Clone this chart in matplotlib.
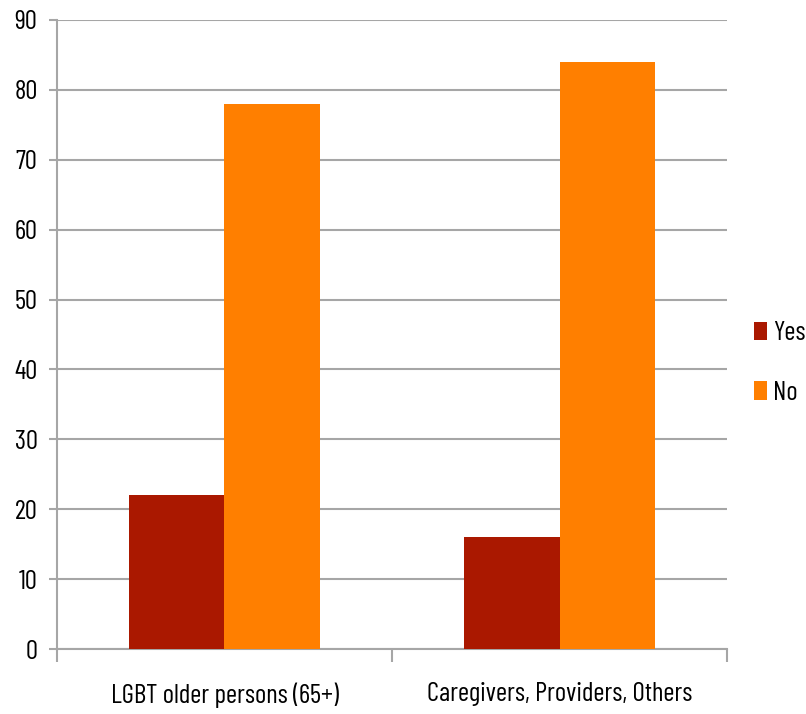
import matplotlib
matplotlib.use("Agg")
import matplotlib.pyplot as plt
from matplotlib import font_manager
import numpy as np

categories = ["LGBT older persons (65+)", "Caregivers, Providers, Others"]
series_names = ["Yes", "No"]
yes_values = [22, 16]
no_values = [78, 84]
y_ticks = [0, 10, 20, 30, 40, 50, 60, 70, 80, 90]

available = {f.name for f in font_manager.fontManager.ttflist}
for family in ["Barlow Condensed", "Fira Sans Condensed", "Asap Condensed", "Carlito"]:
    if family in available:
        break
plt.rcParams["font.family"] = [family, "DejaVu Sans"]

fig = plt.figure(figsize=(8.06, 7.14), dpi=100)

# size the text so the first category label spans about 228 px
probe = fig.text(0, 0, categories[0], fontsize=20)
fig.canvas.draw()
width_px = probe.get_window_extent().width
probe.remove()
fs = 20 * 228 / width_px

ax = fig.add_axes([0.0707, 0.091, 0.8313, 0.881])

x = np.arange(len(categories))
w = 0.286
ax.bar(x - w / 2, yes_values, w, color="#AA1800", label=series_names[0], zorder=3)
ax.bar(x + w / 2, no_values, w, color="#FF7F00", label=series_names[1], zorder=3)

ax.set_xlim(-0.5, len(categories) - 0.5)
ax.set_ylim(0, 90)
ax.set_yticks(y_ticks)
ax.set_yticklabels([str(v) for v in y_ticks], fontsize=fs)
ax.yaxis.grid(True, color="#A6A6A6", linewidth=1.5, zorder=0)
ax.tick_params(axis="y", length=6, width=1.5, color="#A6A6A6", pad=8)

ax.set_xticks(np.arange(-0.5, len(categories), 1.0))
ax.set_xticklabels([])
ax.set_xticks(x, minor=True)
ax.set_xticklabels(categories, minor=True, fontsize=fs)
ax.tick_params(axis="x", which="major", length=9, width=1.5, color="#A6A6A6")
ax.tick_params(axis="x", which="minor", length=0, pad=24)

for s in ["top", "right"]:
    ax.spines[s].set_visible(False)
for s in ["left", "bottom"]:
    ax.spines[s].set_color("#A6A6A6")
    ax.spines[s].set_linewidth(1.5)

fig.legend(loc="center left", bbox_to_anchor=(0.936, 0.4916), frameon=False,
           fontsize=fs, handlelength=0.48, handleheight=0.7, handletextpad=0.2,
           labelspacing=1.3, borderpad=0, borderaxespad=0)

fig.savefig("out.png", dpi=100)
